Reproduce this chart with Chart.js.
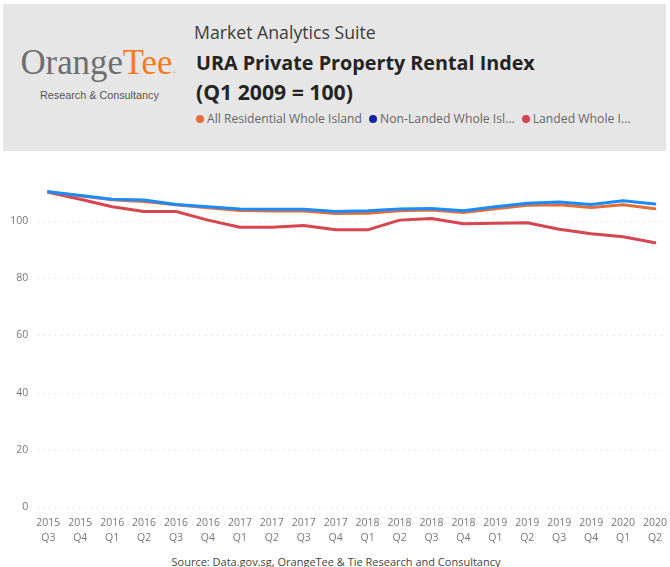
<!DOCTYPE html>
<html><head><meta charset="utf-8">
<script src="https://cdn.jsdelivr.net/npm/chart.js@4/dist/chart.umd.min.js"></script>
<style>
html,body{margin:0;padding:0;background:#fff;width:670px;height:567px;overflow:hidden;font-family:'Open Sans',sans-serif;}
#hdr{position:absolute;left:3px;top:4px;width:663px;height:147px;background:#e6e6e6;}
.t{position:absolute;white-space:nowrap;line-height:1;}
.dot{position:absolute;width:8px;height:8px;border-radius:50%;}
#wrap{position:absolute;left:0;top:152px;width:670px;height:396px;}
</style></head>
<body>
<div id="hdr"></div>
<div class="t" id="logo" style="font-family:'Liberation Serif',serif;"><span id="logoA" style="color:#6d6e71">Orange</span><span id="logoB" style="color:#f47b20">Tee</span><span style="font-size:5px;color:#f47b20">®</span></div>
<div class="t" id="rc" style="font-family:'Liberation Sans',sans-serif;color:#555;">Research &amp; Consultancy</div>
<div class="t" id="suite" style="color:#3c3c3c;">Market Analytics Suite</div>
<div class="t" id="title1" style="color:#252423;font-weight:bold;">URA Private Property Rental Index</div>
<div class="t" id="title2" style="color:#252423;font-weight:bold;">(Q1 2009 = 100)</div>
<div id="legend"></div>
<div id="wrap"><canvas id="c" width="670" height="396"></canvas></div>
<div class="t" id="src" style="color:#444;">Source: Data.gov.sg, OrangeTee &amp; Tie Research and Consultancy</div>
<script>
// ---- data ----
const years = ['2015','2015','2016','2016','2016','2016','2017','2017','2017','2017','2018','2018','2018','2018','2019','2019','2019','2019','2020','2020'];
const quarters = ['Q3','Q4','Q1','Q2','Q3','Q4','Q1','Q2','Q3','Q4','Q1','Q2','Q3','Q4','Q1','Q2','Q3','Q4','Q1','Q2'];
const seriesNames = ['All Residential Whole Island','Non-Landed Whole Island','Landed Whole Island'];
const allResidential = [110.1,108.8,107.4,106.8,105.7,104.6,103.7,103.5,103.5,102.6,102.7,103.6,103.8,103.0,104.3,105.5,105.7,104.7,105.7,104.3];
const nonLanded      = [110.2,108.9,107.6,107.3,105.8,105.0,104.2,104.1,104.1,103.3,103.6,104.2,104.4,103.6,105.0,106.2,106.6,105.8,107.1,105.9];
const landed         = [110.0,107.6,105.0,103.3,103.3,100.3,97.8,97.8,98.4,96.9,96.9,100.3,100.9,99.0,99.2,99.4,97.1,95.5,94.5,92.4];
const yTicks = [0,20,40,60,80,100];

const lineColors = ['#E66C37','#1A8CFF','#D64550'];
const legendColors = ['#E66C37','#12239E','#D64550'];
const legendChars = [null, 20, 14];

// ---- header text placement ----
const mctx = document.createElement('canvas').getContext('2d');
const metrics = {open:0.888, serif:0.8375, sans:0.8465};
function place(id, x, baseline, size, kind, targetW, centered){
  const el = document.getElementById(id);
  const cs = getComputedStyle(el);
  let s = size;
  if (targetW){
    mctx.font = cs.fontWeight+' '+size+'px '+cs.fontFamily;
    const w = mctx.measureText(el.textContent.replace('®','')).width;
    s = size*targetW/w;
  }
  el.style.fontSize = s+'px';
  el.style.top = (baseline - metrics[kind]*s)+'px';
  if (centered){ mctx.font = cs.fontWeight+' '+s+'px '+cs.fontFamily; el.style.left = (x - mctx.measureText(el.textContent).width/2)+'px'; }
  else el.style.left = x+'px';
}
place('logo', 20.5, 75, 35, 'serif', 152);
place('rc', 40, 98.7, 11, 'sans', 119);
place('suite', 194, 39.3, 17, 'open', 182);
place('title1', 196, 70.7, 19, 'open', 339);
place('title2', 196, 100, 19, 'open', 157);
place('src', 336, 566, 12, 'open', 329, true);

// legend
const legend = document.getElementById('legend');
const legX = [196, 369, 521.7];
const legW = [155, 135, 98];
seriesNames.forEach((n,i)=>{
  const d = document.createElement('div'); d.className='dot';
  d.style.background = legendColors[i]; d.style.left = legX[i]+'px'; d.style.top = '115.3px';
  legend.appendChild(d);
  const t = document.createElement('div'); t.className='t'; t.id='leg'+i;
  t.style.color='#666';
  t.textContent = legendChars[i] ? n.slice(0, legendChars[i]) + '...' : n;
  legend.appendChild(t);
  place('leg'+i, legX[i]+11, 124, 12.5, 'open', legW[i]);
});

// ---- chart ----
const dottedGrid = {
  id:'dottedGrid',
  beforeDatasetsDraw(chart){
    const y = chart.scales.y, ctx = chart.ctx, a = chart.chartArea;
    ctx.save(); ctx.strokeStyle='#cccccc'; ctx.lineWidth=1; ctx.setLineDash([1,5]);
    y.ticks.forEach(t=>{
      const py = Math.round(y.getPixelForValue(t.value))+0.5;
      ctx.beginPath(); ctx.moveTo(a.left-11, py); ctx.lineTo(a.right+10, py); ctx.stroke();
    });
    ctx.restore();
  }
};
const tickFont = {family:"'Segoe UI','Open Sans',sans-serif", size:10.5, lineHeight:1.4};
new Chart(document.getElementById('c'), {
  type:'line',
  data:{
    labels: years.map((y,i)=>[y, quarters[i]]),
    datasets:[
      {label:seriesNames[0], data:allResidential, borderColor:lineColors[0], backgroundColor:lineColors[0], order:1},
      {label:seriesNames[1], data:nonLanded, borderColor:lineColors[1], backgroundColor:lineColors[1], order:0},
      {label:seriesNames[2], data:landed, borderColor:lineColors[2], backgroundColor:lineColors[2], order:2}
    ]
  },
  options:{
    responsive:false, animation:false, devicePixelRatio:1,
    layout:{padding:{top:17.5,right:15,bottom:0,left:0}},
    plugins:{legend:{display:false}, tooltip:{enabled:false}, title:{display:false}},
    elements:{point:{radius:0}, line:{borderWidth:3, tension:0, borderJoinStyle:'round', borderCapStyle:'round'}},
    scales:{
      x:{
        grid:{display:false, drawTicks:false}, border:{display:false},
        ticks:{color:'#777', font:tickFont, padding:9, maxRotation:0, minRotation:0, autoSkip:false},
        afterFit(s){ s.height = 41; s.paddingLeft = 0; s.paddingRight = 0; }
      },
      y:{
        min:0, max:118,
        afterBuildTicks(s){ s.ticks = yTicks.map(v=>({value:v})); },
        grid:{display:false, drawTicks:false}, border:{display:false},
        ticks:{color:'#777', font:{family:tickFont.family, size:10.5}, padding:20},
        afterFit(s){ s.width = 48.3; s.paddingTop = 0; s.paddingBottom = 0; }
      }
    }
  },
  plugins:[dottedGrid]
});
</script>
</body></html>
